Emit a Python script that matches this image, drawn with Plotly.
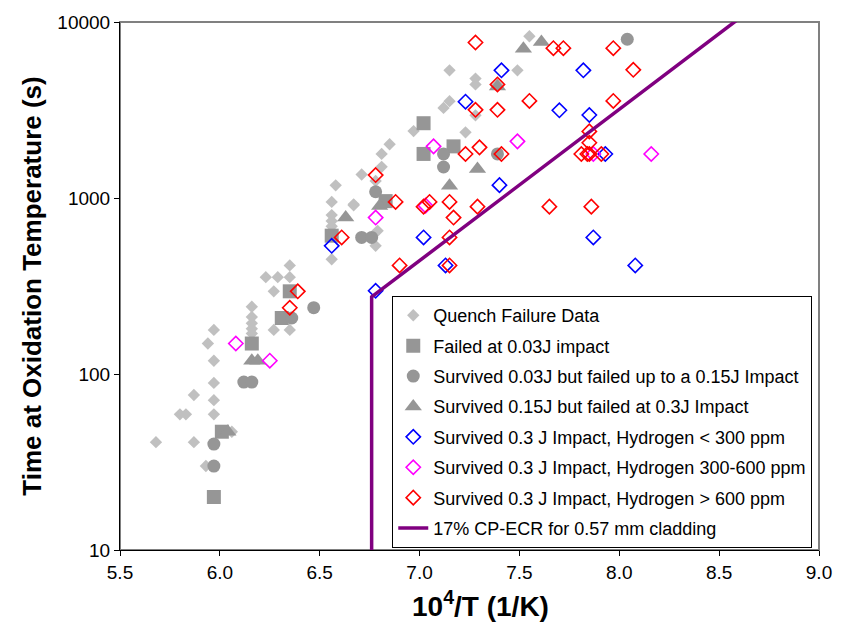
import plotly.graph_objects as go

# Quench failure data
quench_x = [5.68, 5.87, 5.80, 5.83, 5.97, 5.97, 5.87, 5.97, 5.97, 5.94, 5.97, 5.93, 6.06,
            6.16, 6.16, 6.16, 6.16, 6.16, 6.23, 6.29, 6.35, 6.35, 6.27, 6.27, 6.35,
            6.56, 6.56, 6.56, 6.56, 6.56, 6.58, 6.67, 6.67, 6.71, 6.78, 6.79, 6.78,
            6.81, 6.81, 6.85, 6.97, 7.12, 7.15, 7.15, 7.28, 7.28, 7.28, 7.23, 7.39,
            7.49, 7.55]
quench_y = [41, 41, 59, 59, 59, 71, 76, 89, 119, 149, 178, 30, 47,
            170, 181, 194, 211, 241, 355, 355, 355, 414, 295, 178, 178,
            449, 690, 740, 800, 950, 1180, 920, 910, 1360, 535, 651, 1250,
            1503, 1780, 2020, 2400, 3250, 3550, 5315, 4770, 4420, 2950, 2360, 4415,
            5315, 8300]

# Failed at 0.03J impact
sq_x = [5.97, 6.01, 6.16, 6.31, 6.35, 6.56, 6.83, 7.02, 7.02, 7.17]
sq_y = [20, 47, 149, 208, 295, 611, 960, 2660, 1780, 1965]

# Survived 0.03J but failed up to a 0.15J impact
ci_x = [5.97, 5.97, 6.12, 6.16, 6.36, 6.47, 6.71, 6.76, 6.78, 7.12, 7.12, 7.39, 8.04]
ci_y = [30, 40, 90, 90, 208, 238, 597, 597, 1085, 1780, 1500, 1780, 7980]

# Survived 0.15J but failed at 0.3J impact
tr_x = [6.04, 6.16, 6.19, 6.63, 6.80, 7.15, 7.29, 7.39, 7.52, 7.61]
tr_y = [47, 119, 119, 775, 900, 1175, 1460, 4300, 7050, 7700]

# Survived 0.3 J impact, hydrogen < 300 ppm
bl_x = [6.56, 6.78, 7.02, 7.13, 7.23, 7.40, 7.41, 7.70, 7.82, 7.85, 7.87, 7.93, 8.08]
bl_y = [535, 297, 597, 414, 3525, 1183, 5315, 3150, 5315, 2963, 597, 1778, 414]

# Survived 0.3 J impact, hydrogen 300-600 ppm
mg_x = [6.08, 6.25, 6.78, 7.03, 7.07, 7.49, 7.87, 8.16]
mg_y = [149, 119, 774, 905, 1965, 2098, 1778, 1778]

# Survived 0.3 J impact, hydrogen > 600 ppm
rd_x = [6.35, 6.39, 6.61, 6.78, 6.88, 6.90, 7.02, 7.05, 7.15, 7.17, 7.15, 7.15, 7.23,
        7.28, 7.28, 7.29, 7.30, 7.39, 7.39, 7.41, 7.55, 7.65, 7.67, 7.72, 7.81, 7.84,
        7.85, 7.91, 7.85, 7.85, 7.86, 7.97, 7.97, 8.07]
rd_y = [238, 295, 597, 1350, 950, 414, 893, 950, 950, 774, 597, 414, 1778,
        7650, 3170, 893, 1940, 4420, 3170, 1778, 3560, 893, 7100, 7100, 1778, 1778,
        1778, 1778, 2390, 2060, 893, 7100, 3560, 5350]

# 17% CP-ECR limit for 0.57 mm cladding
ecr_x = [6.76, 6.76, 8.6]
ecr_y = [10, 274, 10470]

x_ticks = [5.5, 6.0, 6.5, 7.0, 7.5, 8.0, 8.5, 9.0]
y_ticks = [10, 100, 1000, 10000]

FONT = "Arial, Liberation Sans, sans-serif"
GRAY_LIGHT = "#C0C0C0"
GRAY_DARK = "#969696"

series = [
    ("Quench Failure Data", quench_x, quench_y, "diamond", 9.5, GRAY_LIGHT, None),
    ("Failed at 0.03J impact", sq_x, sq_y, "square", 14, GRAY_DARK, None),
    ("Survived 0.03J but failed up to a 0.15J Impact", ci_x, ci_y, "circle", 13, GRAY_DARK, None),
    ("Survived 0.15J but failed at 0.3J Impact", tr_x, tr_y, "triangle-up", 15, GRAY_DARK, None),
    ("Survived 0.3 J Impact, Hydrogen < 300 ppm", bl_x, bl_y, "diamond-open", 11, "#0000FF", 1.6),
    ("Survived 0.3 J Impact, Hydrogen 300-600 ppm", mg_x, mg_y, "diamond-open", 11, "#FF00FF", 1.6),
    ("Survived 0.3 J Impact, Hydrogen > 600 ppm", rd_x, rd_y, "diamond-open", 11, "#FF0000", 1.6),
]

fig = go.Figure()
for i, (name, xs, ys, sym, size, color, lw) in enumerate(series):
    marker = dict(symbol=sym, size=size, color=color)
    if lw:
        marker["line"] = dict(color=color, width=lw)
    else:
        marker["line"] = dict(width=0)
    fig.add_trace(go.Scatter(x=xs, y=ys, mode="markers", name=name,
                             legendgroup=f"g{i}", marker=marker))

fig.add_trace(go.Scatter(x=ecr_x, y=ecr_y, mode="lines",
                         name="17% CP-ECR for 0.57 mm cladding", legendgroup="g8",
                         line=dict(color="#800080", width=3.5)))

# plot-area frame
fig.add_shape(type="rect", xref="paper", yref="paper", x0=0, y0=0, x1=1, y1=1,
              line=dict(color="#808080", width=2), layer="below")

# x-axis title, placed slightly right of centre
fig.add_annotation(text="<b>10<sup>4</sup>/T (1/K)</b>", xref="paper", yref="paper",
                   x=0.516, y=-0.103, xanchor="center", yanchor="middle",
                   showarrow=False, font=dict(family=FONT, size=28, color="black"))

fig.update_layout(
    width=844, height=631,
    margin=dict(l=120, r=22, t=18, b=81),
    paper_bgcolor="white", plot_bgcolor="white",
    font=dict(family=FONT, size=18, color="black"),
    showlegend=True,
    legend=dict(x=0.3895, y=0.481, xanchor="left", yanchor="top",
                bgcolor="white", bordercolor="black", borderwidth=1,
                font=dict(family=FONT, size=18, color="black"),
                tracegroupgap=4, itemsizing="trace"),
    xaxis=dict(range=[5.5, 9.0], tickvals=x_ticks, tickformat=".1f",
               showgrid=False, zeroline=False, showline=True, linecolor="black",
               linewidth=1, ticks="outside", ticklen=5, tickcolor="black",
               tickfont=dict(size=19)),
    yaxis=dict(type="log", range=[1, 4], tickvals=y_ticks,
               ticktext=[str(v) for v in y_ticks],
               showgrid=False, zeroline=False, showline=True, linecolor="black",
               linewidth=1, ticks="outside", ticklen=5, tickcolor="black",
               tickfont=dict(size=19),
               title=dict(text="<b>Time at Oxidation Temperature (s)</b>",
                          font=dict(size=26), standoff=8)),
)

fig.write_html("out.html")
